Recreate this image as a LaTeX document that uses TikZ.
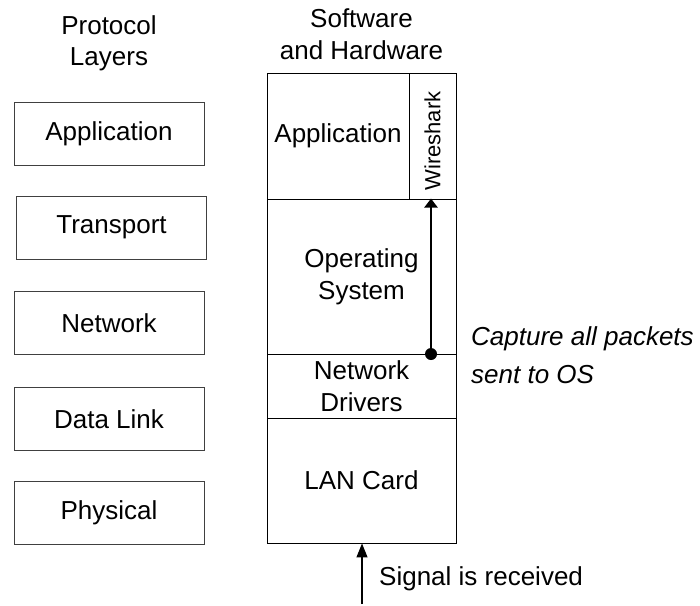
\documentclass[tikz,border=0pt]{standalone}
\usepackage{fontspec}
\setmainfont{Liberation Sans}
\usetikzlibrary{arrows.meta}
\begin{document}
\begin{tikzpicture}[x=1pt,y=-1pt,
  lbl/.style={font=\fontsize{26}{32}\selectfont, align=center},
  layerbox/.style={draw=black!75, line width=0.9pt, minimum width=190pt, minimum height=63pt, inner sep=0pt, lbl},
  cell/.style={draw=black, line width=0.9pt, inner sep=0pt, lbl, minimum width=189pt},
  flow/.style={line width=2.5pt, -{Triangle[width=13pt,length=9pt]}},
  sig/.style={line width=1.3pt, -{Triangle[width=11pt,length=14pt]}}]
\useasboundingbox (0,0) rectangle (700,605);

% titles
\node[font=\fontsize{26}{30.5}\selectfont, align=center, inner sep=0pt] (t1) at (109,43.5) {Protocol\\Layers};
\node[lbl, inner sep=0pt] (t2) at (361.5,34.5) {Software\\and Hardware};

% protocol layers
\node[layerbox] (lapp) at (109,133.5) {Application};
\node[layerbox] (ltra) at (111.5,227.5) {Transport};
\node[layerbox] (lnet) at (109,323) {Network};
\node[layerbox] (ldl) at (109,419) {Data Link};
\node[layerbox] (lphy) at (109,512.5) {Physical};

% software and hardware column
\node[cell, minimum width=142pt, minimum height=126pt] (app) at (338,136) {Application};
\node[draw=black, line width=0.9pt, rotate=90, minimum width=126pt, minimum height=47pt, inner sep=0pt, font=\fontsize{22}{26}\selectfont] (ws) at (432.5,136) {Wireshark\hspace*{10pt}};
\node[cell, minimum height=155pt] (os) at (361.5,276.5) {Operating\\System};
\node[cell, minimum height=64pt] (nd) at (361.5,386) {Network\\Drivers};
\node[cell, minimum height=125pt] (lan) at (361.5,480.5) {LAN Card};

% capture arrow
\coordinate (dotc) at (431,354);
\draw[flow] (dotc) -- (dotc |- os.north);
\fill (dotc) circle (6pt);
\node[font=\fontsize{26}{38}\selectfont\itshape, align=left, anchor=north west, inner sep=0pt] (cap) at (471,326) {Capture all packets\\sent to OS};

% signal arrow
\coordinate (sigstart) at (362,604);
\draw[sig] (sigstart) -- (sigstart |- lan.south);
\node[lbl, anchor=base west, inner sep=0pt] (sigtext) at (379,585) {Signal is received};
\end{tikzpicture}
\end{document}
